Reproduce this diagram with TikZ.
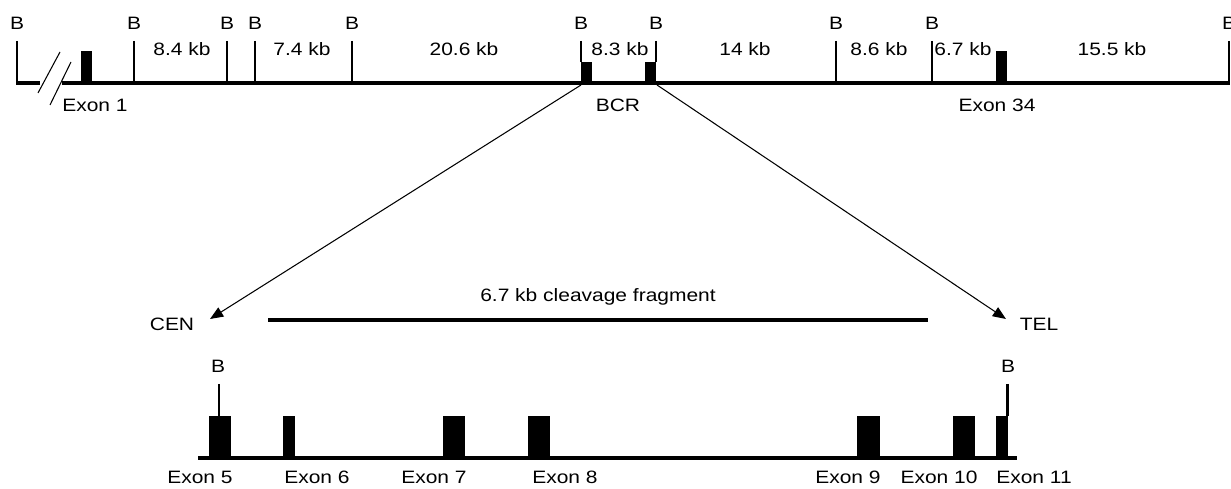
\documentclass[tikz,border=0pt]{standalone}
\usepackage{fontspec}
\setmainfont[FakeStretch=1.17]{Liberation Sans}
\usetikzlibrary{arrows.meta, positioning}

\begin{document}
\begin{tikzpicture}[
    x=0.02cm, y=-0.02cm,
    lbl/.style={font=\fontsize{10.2}{12}\selectfont, inner sep=0pt, text depth=0pt},
    site/.style={font=\fontsize{10.2}{12}\selectfont, inner sep=0pt, text depth=0pt},
    gene/.style={line width=2.3pt},
    cut/.style={line width=0.6pt},
    cutbold/.style={line width=1.7pt},
    exon/.style={fill=black},
    arrow/.style={-{Triangle[length=7.5pt, width=6pt]}, line width=0.6pt}
]
\useasboundingbox (0,0) rectangle (1231,489);

% Genomic map with BamHI sites
\draw[cutbold] (17,41) -- (17,83);
\draw[gene] (16.2,83) -- (40,83);
\draw[gene] (62,83) -- (1230,83);
\draw[cut] (60,52) -- (38,93);
\draw[cut] (71,62) -- (50,105);

\draw[cutbold] (134,41) -- (134,83);
\foreach \x in {227,255,352,836,932,1229}
    \draw[cut] (\x,41) -- (\x,83);
\draw[cut] (581,41) -- (581,62);
\draw[cut] (656,41) -- (656,62);

\foreach \x in {17,134,227,255,352,581,656,836,932,1229}
    \node[site] (b\x) at (\x,23) {B};

% Fragment sizes
\node[lbl] (kba) at (182,49) {8.4 kb};
\node[lbl] (kbb) at (302,49) {7.4 kb};
\node[lbl] (kbc) at (464,49) {20.6 kb};
\node[lbl] (kbd) at (620,49) {8.3 kb};
\node[lbl] (kbe) at (745,49) {14 kb};
\node[lbl] (kbf) at (879,49) {8.6 kb};
\node[lbl] (kbg) at (963,49) {6.7 kb};
\node[lbl] (kbh) at (1112,49) {15.5 kb};

% Exons on the map
\fill[exon] (81,51) rectangle (92,83);
\fill[exon] (581,62) rectangle (592,83);
\fill[exon] (645,62) rectangle (656,83);
\fill[exon] (996,51) rectangle (1007,83);

\node[lbl] (ex1) at (95,105) {Exon 1};
\node[lbl] (bcr) at (618,105) {BCR};
\node[lbl] (ex34) at (997,105) {Exon 34};

% Zoom into the BCR
\coordinate (bcrl) at (581,85);
\coordinate (bcrr) at (657,85);
\coordinate (cenend) at (210,319);
\coordinate (telend) at (1006,319);
\draw[arrow] (bcrl) -- (cenend);
\draw[arrow] (bcrr) -- (telend);

\node[lbl] (cen) at (172,324) {CEN};
\node[lbl] (tel) at (1039,324) {TEL};

\coordinate (fraga) at (268,320);
\coordinate (fragb) at (928,320);
\draw[gene] (fraga) -- (fragb);
\node[lbl] (frag) at (598,295) {6.7 kb cleavage fragment};

% Enlarged region, exons 5 to 11
\draw[gene] (198,458) -- (1017,458);
\fill[exon] (209,416) rectangle (231,458);
\fill[exon] (283,416) rectangle (295,458);
\fill[exon] (443,416) rectangle (465,458);
\fill[exon] (528,416) rectangle (550,458);
\fill[exon] (857,416) rectangle (880,458);
\fill[exon] (953,416) rectangle (975,458);
\fill[exon] (996,416) rectangle (1008,458);

\draw[cutbold] (219,384) -- (219,416);
\draw[cutbold] (1007,384) -- (1007,416);
\node[site] (bcen) at (218,366) {B};
\node[site] (btel) at (1008,366) {B};

\node[lbl] (ex5) at (200,477) {Exon 5};
\node[lbl] (ex6) at (317,477) {Exon 6};
\node[lbl] (ex7) at (434,477) {Exon 7};
\node[lbl] (ex8) at (565,477) {Exon 8};
\node[lbl] (ex9) at (848,477) {Exon 9};
\node[lbl] (ex10) at (939,477) {Exon 10};
\node[lbl] (ex11) at (1034,477) {Exon 11};

\end{tikzpicture}
\end{document}
